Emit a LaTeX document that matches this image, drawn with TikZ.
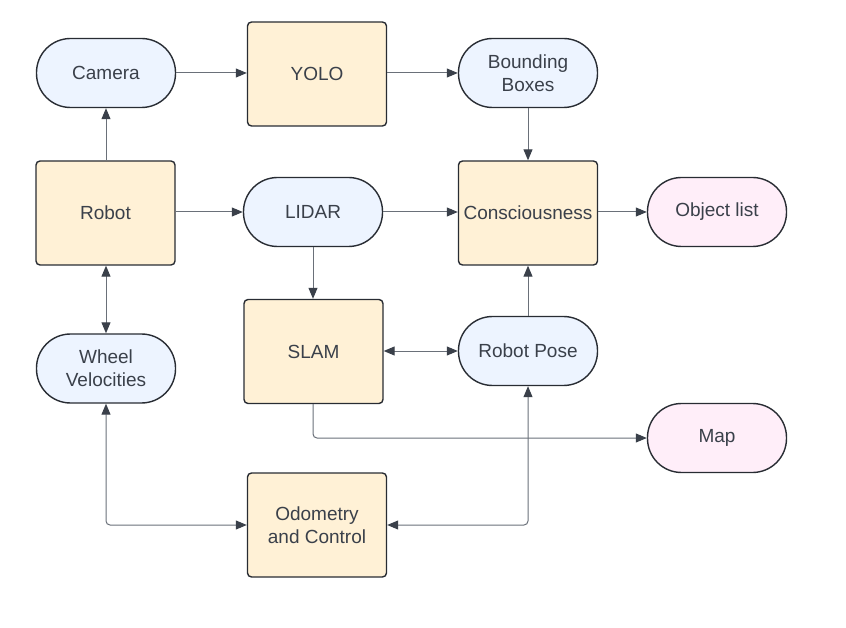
\documentclass[tikz,border=0pt]{standalone}
\usepackage{fontspec}
\setmainfont{Liberation Sans}
\usetikzlibrary{arrows.meta}
\definecolor{boxfill}{HTML}{FFF1D6}
\definecolor{pillfill}{HTML}{EDF4FF}
\definecolor{pinkfill}{HTML}{FFEEF9}
\definecolor{edge}{HTML}{282C33}
\definecolor{conn}{HTML}{6A7079}
\definecolor{tip}{HTML}{3A404A}
\definecolor{txt}{HTML}{3A404A}
\tikzset{
  base/.style={draw=edge, line width=1.4pt, text=txt, font=\fontsize{19}{23}\selectfont, align=center, inner sep=0pt},
  procbox/.style={base, fill=boxfill, minimum width=139pt, minimum height=104pt, rounded corners=4pt},
  pill/.style={base, fill=pillfill, minimum width=139pt, minimum height=69pt, rounded corners=34pt},
  pinkpill/.style={pill, fill=pinkfill},
  link/.style={draw=conn, line width=1pt, -{Triangle[length=11pt,width=9pt,fill=tip,color=tip]}, rounded corners=4pt},
  dlink/.style={link, {Triangle[length=11pt,width=9pt,fill=tip,color=tip]}-{Triangle[length=11pt,width=9pt,fill=tip,color=tip]}}
}
\begin{document}
\begin{tikzpicture}[x=1pt,y=-1pt]
\path[use as bounding box] (0,0) rectangle (846,628);
\node[pill] (camera) at (106,73) {Camera};
\node[procbox] (yolo) at (317,74) {YOLO};
\node[pill] (bb) at (528,73) {Bounding\\Boxes};
\node[procbox] (robot) at (105.5,213) {Robot};
\node[pill] (lidar) at (313,212) {LIDAR};
\node[procbox] (cons) at (528,213) {Consciousness};
\node[pinkpill] (obj) at (717,212) {Object list};
\node[procbox] (slam) at (313.5,351.5) {SLAM};
\node[pill] (pose) at (528,351) {Robot Pose};
\node[pill] (wheel) at (106,368.5) {Wheel\\Velocities};
\node[pinkpill] (map) at (717,438) {Map};
\node[procbox] (odo) at (317,525) {Odometry\\and Control};
\coordinate (c1) at (313,438);
\coordinate (c2) at (106,525);
\coordinate (c3) at (528,525);
\draw[link] (camera.east) -- (yolo.west |- camera.east);
\draw[link] (yolo.east |- bb.west) -- (bb.west);
\draw[link] (robot.east |- lidar.west) -- (lidar.west);
\draw[link] (lidar.east) -- (cons.west |- lidar.east);
\draw[link] (cons.east |- obj.west) -- (obj.west);
\draw[link] (robot.north -| camera.south) -- (camera.south);
\draw[link] (bb.south) -- (cons.north);
\draw[link] (lidar.south) -- (slam.north -| lidar.south);
\draw[link] (pose.north) -- (cons.south);
\draw[dlink] (slam.east |- pose.west) -- (pose.west);
\draw[dlink] (robot.south -| wheel.north) -- (wheel.north);
\draw[link] (slam.south -| c1) -- (c1) -- (map.west);
\draw[dlink] (wheel.south) -- (c2) -- (odo.west |- c2);
\draw[dlink] (pose.south) -- (c3) -- (odo.east |- c3);
\end{tikzpicture}
\end{document}
